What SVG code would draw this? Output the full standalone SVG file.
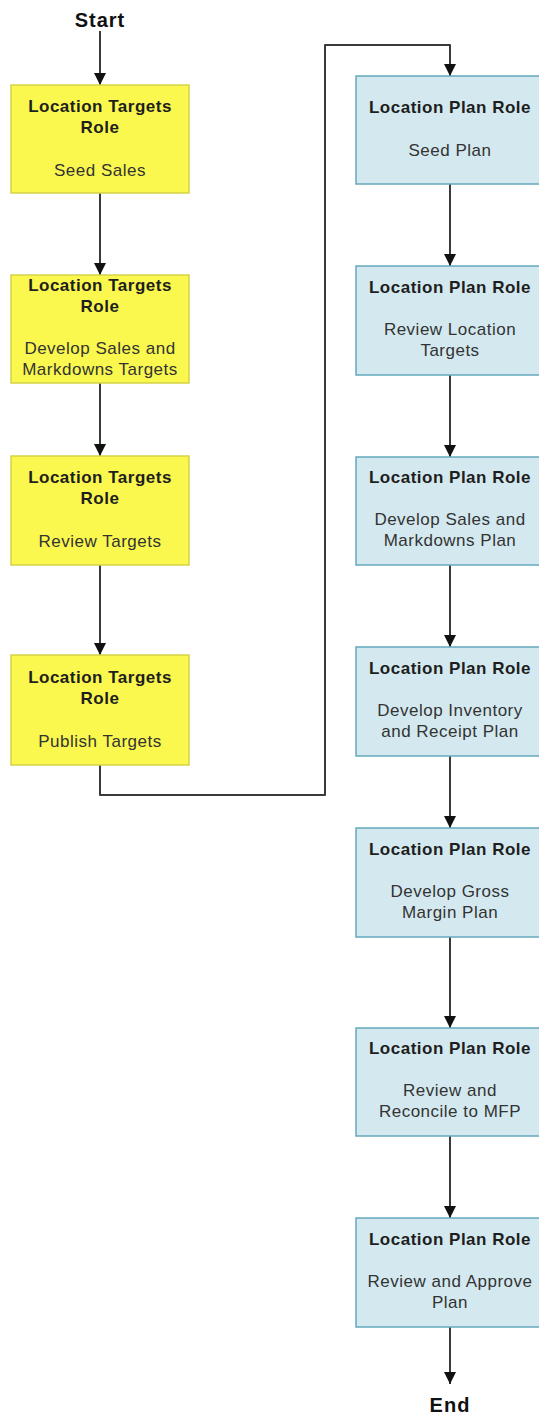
<svg xmlns="http://www.w3.org/2000/svg" width="539" height="1416" viewBox="0 0 539 1416">
<style>
.t{font-family:"Liberation Sans",Arial,sans-serif;font-size:17px;letter-spacing:0.5px;text-anchor:middle;fill:#333}
.b{font-weight:bold;fill:#1e1e1e}
.term{font-family:"Liberation Sans",Arial,sans-serif;font-size:20px;font-weight:bold;letter-spacing:1px;text-anchor:middle;fill:#111}
.y{fill:#FAF84E;stroke:#D5D248;stroke-width:1.5}
.bl{fill:#D3E9EF;stroke:#64A9BC;stroke-width:1.5}
.c{fill:none;stroke:#3a3a3a;stroke-width:2;stroke-linejoin:round}
</style>
<defs>
<marker id="ah" viewBox="0 0 12 12" refX="12" refY="6" markerWidth="12" markerHeight="12" markerUnits="userSpaceOnUse" orient="auto">
<path d="M0,0 L12,6 L0,12 Z" fill="#111"/>
</marker>
</defs>
<g id="connectors">
<path class="c" d="M100,31 V85" marker-end="url(#ah)"/>
<path class="c" d="M100,193 V275" marker-end="url(#ah)"/>
<path class="c" d="M100,383 V456" marker-end="url(#ah)"/>
<path class="c" d="M100,565 V655" marker-end="url(#ah)"/>
<path class="c" d="M100,765 V795 H325 V45 H450 V76" marker-end="url(#ah)"/>
<path class="c" d="M450,184 V266" marker-end="url(#ah)"/>
<path class="c" d="M450,375 V457" marker-end="url(#ah)"/>
<path class="c" d="M450,565 V647" marker-end="url(#ah)"/>
<path class="c" d="M450,756 V828" marker-end="url(#ah)"/>
<path class="c" d="M450,937 V1028" marker-end="url(#ah)"/>
<path class="c" d="M450,1136 V1218" marker-end="url(#ah)"/>
<path class="c" d="M450,1327 V1384" marker-end="url(#ah)"/>
</g>
<g id="start"><text class="term" x="100" y="27">Start</text></g>
<g id="end"><text class="term" x="450" y="1412">End</text></g>
<g id="y1">
<rect class="y" x="11" y="85" width="178" height="108"/>
<text class="t b" x="100" y="112">Location Targets</text>
<text class="t b" x="100" y="133">Role</text>
<text class="t" x="100" y="176">Seed Sales</text>
</g>
<g id="y2">
<rect class="y" x="11" y="275" width="178" height="108"/>
<text class="t b" x="100" y="291">Location Targets</text>
<text class="t b" x="100" y="312">Role</text>
<text class="t" x="100" y="354">Develop Sales and</text>
<text class="t" x="100" y="375">Markdowns Targets</text>
</g>
<g id="y3">
<rect class="y" x="11" y="456" width="178" height="109"/>
<text class="t b" x="100" y="483">Location Targets</text>
<text class="t b" x="100" y="504">Role</text>
<text class="t" x="100" y="547">Review Targets</text>
</g>
<g id="y4">
<rect class="y" x="11" y="655" width="178" height="110"/>
<text class="t b" x="100" y="683">Location Targets</text>
<text class="t b" x="100" y="704">Role</text>
<text class="t" x="100" y="747">Publish Targets</text>
</g>
<g id="b1">
<rect class="bl" x="356" y="76" width="188" height="108"/>
<text class="t b" x="450" y="113">Location Plan Role</text>
<text class="t" x="450" y="156">Seed Plan</text>
</g>
<g id="b2">
<rect class="bl" x="356" y="266" width="188" height="109"/>
<text class="t b" x="450" y="293">Location Plan Role</text>
<text class="t" x="450" y="335">Review Location</text>
<text class="t" x="450" y="356">Targets</text>
</g>
<g id="b3">
<rect class="bl" x="356" y="457" width="188" height="108"/>
<text class="t b" x="450" y="483">Location Plan Role</text>
<text class="t" x="450" y="525">Develop Sales and</text>
<text class="t" x="450" y="546">Markdowns Plan</text>
</g>
<g id="b4">
<rect class="bl" x="356" y="647" width="188" height="109"/>
<text class="t b" x="450" y="674">Location Plan Role</text>
<text class="t" x="450" y="716">Develop Inventory</text>
<text class="t" x="450" y="737">and Receipt Plan</text>
</g>
<g id="b5">
<rect class="bl" x="356" y="828" width="188" height="109"/>
<text class="t b" x="450" y="855">Location Plan Role</text>
<text class="t" x="450" y="897">Develop Gross</text>
<text class="t" x="450" y="918">Margin Plan</text>
</g>
<g id="b6">
<rect class="bl" x="356" y="1028" width="188" height="108"/>
<text class="t b" x="450" y="1054">Location Plan Role</text>
<text class="t" x="450" y="1096">Review and</text>
<text class="t" x="450" y="1117">Reconcile to MFP</text>
</g>
<g id="b7">
<rect class="bl" x="356" y="1218" width="188" height="109"/>
<text class="t b" x="450" y="1245">Location Plan Role</text>
<text class="t" x="450" y="1287">Review and Approve</text>
<text class="t" x="450" y="1308">Plan</text>
</g>
</svg>
